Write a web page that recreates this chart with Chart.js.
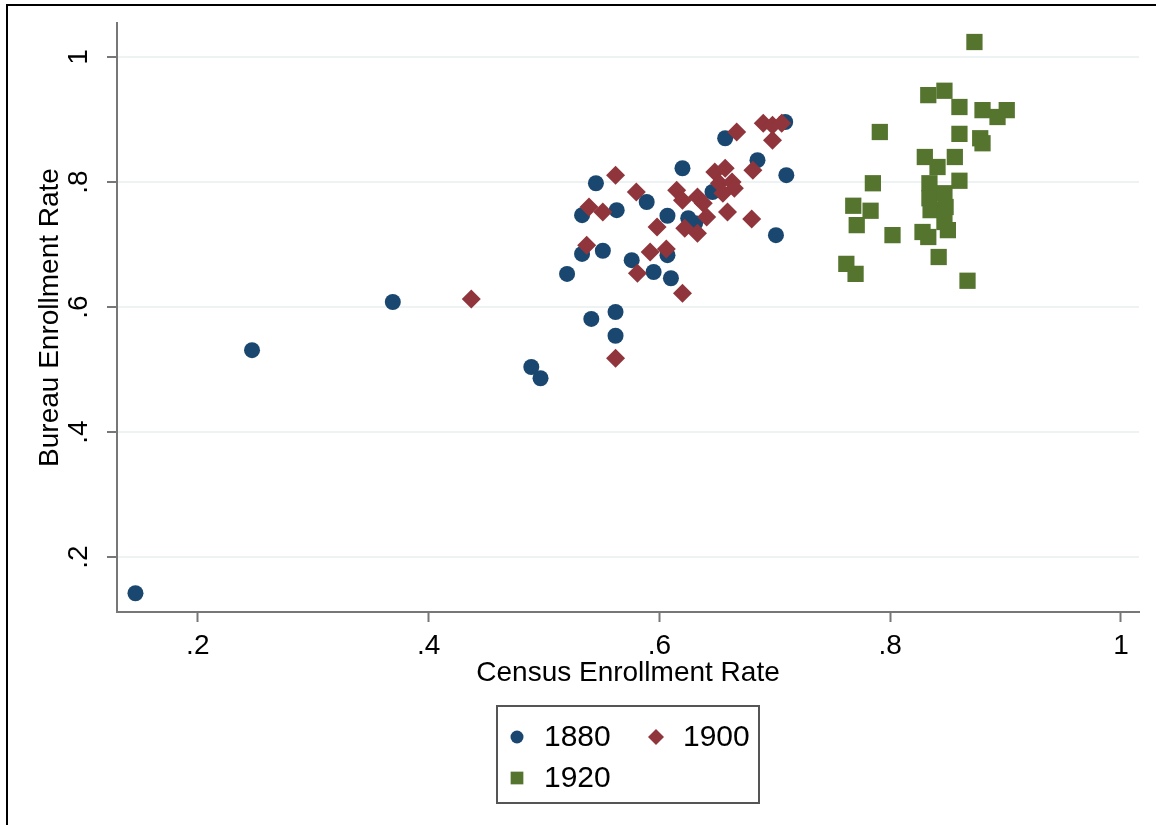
<!DOCTYPE html>
<html>
<head>
<meta charset="utf-8">
<title>Census vs Bureau Enrollment Rate</title>
<script src="https://cdn.jsdelivr.net/npm/chart.js@4.4.1/dist/chart.umd.min.js"></script>
<style>
  html, body { margin: 0; padding: 0; background: #fff; }
  #chart { display: block; }
</style>
</head>
<body>
<canvas id="chart" width="1156" height="825"></canvas>
<script>
  "use strict";

  // 1880
  var census1880 = [0.146, 0.247, 0.369, 0.489, 0.497, 0.520, 0.533, 0.533, 0.545, 0.551, 0.563, 0.541, 0.562, 0.562, 0.576,
                    0.589, 0.595, 0.607, 0.610, 0.607, 0.620, 0.625, 0.631, 0.646, 0.657, 0.685, 0.709, 0.710, 0.701];
  var bureau1880 = [0.142, 0.531, 0.608, 0.504, 0.486, 0.653, 0.685, 0.747, 0.798, 0.690, 0.755, 0.581, 0.592, 0.554, 0.675,
                    0.768, 0.656, 0.683, 0.646, 0.746, 0.822, 0.742, 0.734, 0.784, 0.870, 0.835, 0.896, 0.811, 0.715];

  // 1900
  var census1900 = [0.437, 0.562, 0.537, 0.539, 0.551, 0.562, 0.580, 0.592, 0.606, 0.581, 0.620, 0.598, 0.615, 0.620, 0.633,
                    0.638, 0.622, 0.633, 0.641, 0.648, 0.657, 0.652, 0.663, 0.665, 0.655, 0.659, 0.680, 0.667, 0.690, 0.698,
                    0.706, 0.698, 0.681];
  var bureau1900 = [0.613, 0.811, 0.699, 0.760, 0.752, 0.518, 0.784, 0.688, 0.693, 0.654, 0.622, 0.728, 0.787, 0.771, 0.776,
                    0.766, 0.726, 0.718, 0.744, 0.816, 0.822, 0.798, 0.800, 0.790, 0.782, 0.752, 0.741, 0.880, 0.894, 0.891,
                    0.894, 0.867, 0.819];

  // 1920
  var census1920 = [0.873, 0.833, 0.847, 0.860, 0.880, 0.901, 0.893, 0.791, 0.860, 0.878, 0.880, 0.830, 0.856, 0.841, 0.785,
                    0.834, 0.860, 0.834, 0.847, 0.835, 0.848, 0.768, 0.783, 0.771, 0.802, 0.828, 0.833, 0.847, 0.850, 0.842,
                    0.762, 0.770, 0.867];
  var bureau1920 = [1.024, 0.939, 0.946, 0.920, 0.915, 0.915, 0.904, 0.880, 0.877, 0.870, 0.862, 0.840, 0.840, 0.824, 0.798,
                    0.798, 0.802, 0.774, 0.782, 0.755, 0.760, 0.762, 0.754, 0.731, 0.715, 0.720, 0.712, 0.736, 0.723, 0.680,
                    0.669, 0.653, 0.642];

  var xTicks = [0.2, 0.4, 0.6, 0.8, 1];
  var yTicks = [0.2, 0.4, 0.6, 0.8, 1];

  function points(xs, ys) {
    return xs.map(function (x, i) { return { x: x, y: ys[i] }; });
  }

  // Stata style tick labels: ".2", ".4", "1"
  function stataLabel(v) {
    return String(v).replace(/^0\./, '.');
  }

  Chart.defaults.font.family = '"Liberation Sans", Arial, sans-serif';
  Chart.defaults.color = "#000";

  // white page, black frame and boxed legend
  var stataFrame = {
    id: 'stataFrame',
    beforeDraw: function (chart) {
      var ctx = chart.ctx;
      ctx.save();
      ctx.fillStyle = '#fff';
      ctx.fillRect(0, 0, chart.width, chart.height);
      ctx.strokeStyle = '#000';
      ctx.lineWidth = 2;
      ctx.beginPath();
      ctx.moveTo(7, chart.height);
      ctx.lineTo(7, 5);
      ctx.lineTo(chart.width, 5);
      ctx.stroke();
      ctx.restore();
    },
    afterDraw: function (chart) {
      var ctx = chart.ctx, area = chart.chartArea;
      var boxW = 262, boxH = 97;
      var left = Math.round((area.left + area.right) / 2 - boxW / 2), top = 706;
      var cols = [20, 159], rows = [31, 72];
      var legendMarks = [
        { pointStyle: 'circle', radius: 6.5 },
        { pointStyle: 'rectRot', radius: 8 },
        { pointStyle: 'rect', radius: 9 }
      ];
      ctx.save();
      ctx.strokeStyle = '#555';
      ctx.lineWidth = 2;
      ctx.strokeRect(left, top, boxW, boxH);
      ctx.font = '30px "Liberation Sans", Arial, sans-serif';
      ctx.textBaseline = 'middle';
      chart.data.datasets.forEach(function (ds, i) {
        var cx = left + cols[i % 2], cy = top + rows[Math.floor(i / 2)];
        ctx.fillStyle = ds.backgroundColor;
        Chart.helpers.drawPoint(ctx, {
          pointStyle: legendMarks[i].pointStyle,
          radius: legendMarks[i].radius,
          rotation: 0,
          borderWidth: 0
        }, cx, cy);
        ctx.fillStyle = '#000';
        ctx.fillText(ds.label, cx + 27, cy + 1);
      });
      ctx.restore();
    }
  };

  var ctx1 = document.getElementById('chart').getContext('2d');
  var myChart = new Chart(ctx1, {
    type: 'scatter',
    data: {
      datasets: [{
        label: '1880',
        data: points(census1880, bureau1880),
        backgroundColor: '#1a476f',
        pointStyle: 'circle',
        pointRadius: 8,
        borderWidth: 0,
        order: 2
      },
      {
        label: '1900',
        data: points(census1900, bureau1900),
        backgroundColor: '#90353b',
        pointStyle: 'rectRot',
        pointRadius: 9.5,
        borderWidth: 0,
        order: 1
      },
      {
        label: '1920',
        data: points(census1920, bureau1920),
        backgroundColor: '#55752f',
        pointStyle: 'rect',
        pointRadius: 11.5,
        borderWidth: 0,
        order: 0
      }]
    },
    options: {
      responsive: false,
      animation: false,
      layout: { padding: { left: 0, top: 23, right: 17, bottom: 0 } },
      plugins: {
        legend: { display: false },
        tooltip: { enabled: false }
      },
      scales: {
        x: {
          type: 'linear',
          min: 0.13,
          max: 1.0156,
          afterFit: function (s) {
            s.height = 213;
            s.paddingLeft = 0;
            s.paddingRight = 0;
          },
          afterBuildTicks: function (s) { s.ticks = xTicks.map(function (v) { return { value: v }; }); },
          grid: { drawOnChartArea: false, tickLength: 10, tickWidth: 2, tickColor: '#777' },
          border: { color: '#777', width: 2 },
          ticks: { font: { size: 28 }, padding: 7, maxRotation: 0, autoSkip: false, callback: stataLabel },
          title: {
            display: true,
            text: 'Census Enrollment Rate',
            font: { size: 28 },
            padding: { top: 0, bottom: 135 }
          }
        },
        y: {
          type: 'linear',
          min: 0.112,
          max: 1.0544,
          afterFit: function (s) {
            s.width = 117;
            s.paddingTop = 0;
            s.paddingBottom = 0;
          },
          afterBuildTicks: function (s) { s.ticks = yTicks.map(function (v) { return { value: v }; }); },
          grid: { color: '#edf2f3', lineWidth: 2, tickLength: 10, tickWidth: 2, tickColor: '#777' },
          border: { color: '#777', width: 2 },
          ticks: {
            font: { size: 28 },
            minRotation: 90,
            maxRotation: 90,
            crossAlign: 'center',
            padding: 16,
            autoSkip: false,
            callback: stataLabel
          },
          title: {
            display: true,
            text: 'Bureau Enrollment Rate',
            font: { size: 28 },
            padding: { top: 33, bottom: 0 }
          }
        }
      }
    },
    plugins: [stataFrame]
  });
</script>
</body>
</html>
